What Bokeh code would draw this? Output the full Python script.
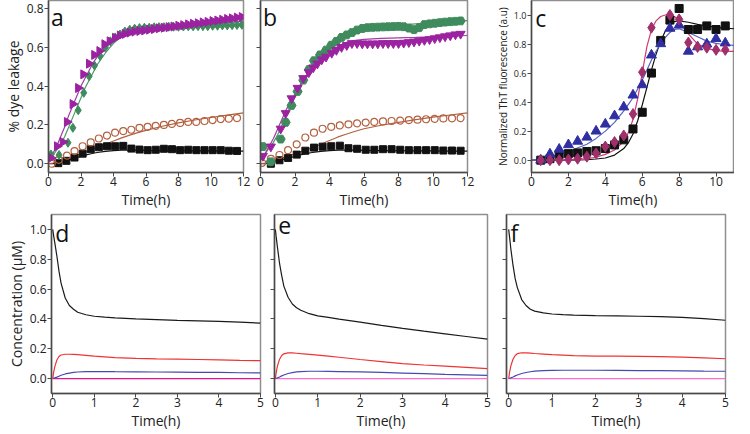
import numpy as np
from bokeh.plotting import figure
from bokeh.layouts import column, row
from bokeh.models import Label, FixedTicker, Range1d, PrintfTickFormatter, CustomJSTickFormatter
from bokeh.embed import file_html
from bokeh.resources import INLINE

FONT = "Open Sans"

# ---------------- Panel a data ----------------
a_sq_t = [0.6, 1.1, 1.6, 2.1, 2.6, 3.1, 3.6, 4.1, 4.6, 5.1, 5.6, 6.1, 6.6, 7.1, 7.6, 8.1, 8.6, 9.1, 9.6, 10.1, 10.6, 11.1, 11.6]
a_sq = [0.003, 0.015, 0.032, 0.052, 0.075, 0.085, 0.09, 0.09, 0.092, 0.078, 0.073, 0.07, 0.072, 0.077, 0.075, 0.07, 0.072, 0.07, 0.07, 0.07, 0.07, 0.067, 0.066]
a_ci_t = [0.2, 0.63, 1.14, 1.6, 2.1, 2.6, 3.1, 3.6, 4.1, 4.6, 5.1, 5.6, 6.1, 6.6, 7.1, 7.6, 8.1, 8.6, 9.1, 9.6, 10.1, 10.6, 11.1, 11.6]
a_ci = [0.0, 0.02, 0.042, 0.065, 0.09, 0.11, 0.13, 0.145, 0.16, 0.168, 0.175, 0.185, 0.19, 0.195, 0.2, 0.205, 0.21, 0.215, 0.215, 0.22, 0.225, 0.23, 0.232, 0.235]
a_gr_t = [0.15, 0.65, 1.2, 1.5, 1.83, 2.17, 2.5, 2.83, 3.17, 3.5, 3.8, 4.1, 4.4, 4.7, 5.0, 5.3, 5.6, 5.9, 6.2, 6.5, 6.8, 7.1, 7.4, 7.7, 8.0, 8.3, 8.6, 8.9, 9.2, 9.5, 9.8, 10.1, 10.4, 10.7, 11.0, 11.3, 11.6, 11.9]
a_gr = [0.048, 0.045, 0.108, 0.185, 0.275, 0.365, 0.45, 0.505, 0.555, 0.6, 0.63, 0.65, 0.665, 0.68, 0.69, 0.695, 0.698, 0.7, 0.7, 0.702, 0.703, 0.703, 0.705, 0.705, 0.705, 0.706, 0.707, 0.707, 0.708, 0.708, 0.708, 0.71, 0.71, 0.712, 0.712, 0.713, 0.714, 0.715]
a_pu_t = [0.15, 0.53, 0.88, 1.14, 1.49, 1.83, 2.15, 2.5, 2.82, 3.14, 3.45, 3.77, 4.1, 4.4, 4.7, 5.0, 5.3, 5.6, 5.9, 6.2, 6.5, 6.8, 7.1, 7.4, 7.7, 8.0, 8.3, 8.6, 8.9, 9.2, 9.5, 9.8, 10.1, 10.4, 10.7, 11.0, 11.3, 11.6, 11.9]
a_pu = [0.03, 0.09, 0.112, 0.215, 0.307, 0.39, 0.46, 0.515, 0.56, 0.58, 0.615, 0.63, 0.648, 0.66, 0.668, 0.675, 0.68, 0.683, 0.686, 0.69, 0.693, 0.697, 0.7, 0.703, 0.706, 0.71, 0.713, 0.717, 0.72, 0.723, 0.727, 0.73, 0.734, 0.737, 0.741, 0.745, 0.748, 0.752, 0.755]

fit_t = [0, 0.25, 0.5, 0.75, 1, 1.25, 1.5, 1.75, 2, 2.25, 2.5, 2.75, 3, 3.5, 4, 4.5, 5, 5.5, 6, 7, 8, 9, 10, 11, 12]
a_fit_gr = [0.02, 0.04, 0.07, 0.1, 0.14, 0.19, 0.24, 0.29, 0.34, 0.39, 0.43, 0.47, 0.51, 0.57, 0.62, 0.655, 0.68, 0.69, 0.697, 0.703, 0.706, 0.708, 0.71, 0.712, 0.715]
a_fit_pu = [0.02, 0.05, 0.09, 0.14, 0.19, 0.25, 0.3, 0.35, 0.4, 0.44, 0.48, 0.52, 0.55, 0.6, 0.64, 0.665, 0.68, 0.69, 0.697, 0.705, 0.71, 0.715, 0.72, 0.727, 0.733]
a_fit_bk = [0.0, 0.0, 0.003, 0.008, 0.014, 0.02, 0.026, 0.032, 0.038, 0.044, 0.049, 0.054, 0.058, 0.064, 0.068, 0.07, 0.07, 0.07, 0.069, 0.068, 0.067, 0.066, 0.066, 0.065, 0.065]
a_fit_br = [0.0, 0.004, 0.009, 0.015, 0.022, 0.029, 0.036, 0.043, 0.051, 0.059, 0.067, 0.075, 0.083, 0.1, 0.117, 0.133, 0.147, 0.16, 0.172, 0.193, 0.21, 0.225, 0.238, 0.25, 0.262]

# ---------------- Panel b data ----------------
b_sq_t = [0.6, 1.1, 1.6, 2.1, 2.6, 3.1, 3.6, 4.1, 4.6, 5.1, 5.6, 6.1, 6.6, 7.1, 7.6, 8.1, 8.6, 9.1, 9.6, 10.1, 10.6, 11.1, 11.6]
b_sq = [0.0, 0.018, 0.03, 0.047, 0.067, 0.083, 0.088, 0.09, 0.093, 0.08, 0.077, 0.072, 0.072, 0.075, 0.075, 0.072, 0.07, 0.07, 0.07, 0.07, 0.068, 0.068, 0.067]
b_ci_t = [0.1, 0.6, 1.1, 1.6, 2.1, 2.6, 3.1, 3.6, 4.1, 4.6, 5.1, 5.6, 6.1, 6.6, 7.1, 7.6, 8.1, 8.6, 9.1, 9.6, 10.1, 10.6, 11.1, 11.6]
b_ci = [0.005, 0.025, 0.045, 0.07, 0.1, 0.135, 0.16, 0.18, 0.19, 0.197, 0.203, 0.208, 0.212, 0.215, 0.218, 0.22, 0.222, 0.225, 0.227, 0.229, 0.231, 0.233, 0.234, 0.235]
b_gr_t = [0.14, 0.59, 1.17, 1.46, 1.8, 2.15, 2.48, 2.81, 3.1, 3.45, 3.8, 4.1, 4.4, 4.7, 5.0, 5.3, 5.6, 5.9, 6.2, 6.5, 6.8, 7.1, 7.4, 7.7, 8.0, 8.3, 8.6, 8.9, 9.2, 9.5, 9.8, 10.1, 10.4, 10.7, 11.0, 11.3, 11.6]
b_gr = [0.088, 0.01, 0.127, 0.213, 0.3, 0.372, 0.43, 0.485, 0.53, 0.56, 0.585, 0.61, 0.63, 0.65, 0.663, 0.675, 0.688, 0.696, 0.7, 0.702, 0.703, 0.704, 0.705, 0.706, 0.707, 0.705, 0.698, 0.69, 0.7, 0.716, 0.72, 0.723, 0.726, 0.729, 0.731, 0.733, 0.735]
b_pu_t = [0.14, 0.6, 1.17, 1.46, 1.8, 2.15, 2.48, 2.8, 3.06, 3.3, 3.55, 3.8, 4.13, 4.4, 4.7, 5.0, 5.3, 5.6, 5.9, 6.2, 6.5, 6.8, 7.1, 7.4, 7.7, 8.0, 8.3, 8.6, 8.9, 9.2, 9.5, 9.8, 10.1, 10.4, 10.7, 11.0, 11.3, 11.6]
b_pu = [0.04, 0.088, 0.18, 0.26, 0.336, 0.39, 0.44, 0.47, 0.495, 0.515, 0.536, 0.55, 0.57, 0.585, 0.6, 0.61, 0.62, 0.62, 0.618, 0.618, 0.618, 0.618, 0.62, 0.62, 0.62, 0.62, 0.622, 0.625, 0.628, 0.632, 0.636, 0.64, 0.645, 0.65, 0.655, 0.66, 0.665, 0.668]
b_fit_gr = [0.03, 0.05, 0.08, 0.11, 0.15, 0.2, 0.25, 0.3, 0.345, 0.39, 0.43, 0.47, 0.5, 0.56, 0.6, 0.635, 0.66, 0.68, 0.692, 0.705, 0.713, 0.72, 0.726, 0.731, 0.736]
b_fit_pu = [0.02, 0.05, 0.09, 0.13, 0.18, 0.23, 0.28, 0.32, 0.36, 0.4, 0.43, 0.46, 0.49, 0.54, 0.575, 0.605, 0.625, 0.635, 0.64, 0.645, 0.648, 0.65, 0.653, 0.656, 0.66]
b_fit_bk = [0.0, 0.0, 0.003, 0.008, 0.014, 0.02, 0.026, 0.032, 0.038, 0.044, 0.049, 0.054, 0.058, 0.064, 0.068, 0.07, 0.07, 0.07, 0.069, 0.068, 0.067, 0.066, 0.066, 0.065, 0.065]
b_fit_br = [0.0, 0.004, 0.009, 0.015, 0.022, 0.029, 0.036, 0.043, 0.051, 0.059, 0.067, 0.075, 0.083, 0.1, 0.12, 0.138, 0.153, 0.167, 0.18, 0.198, 0.213, 0.227, 0.24, 0.251, 0.262]

# ---------------- Panel c data ----------------
c_t = [0.5, 1.0, 1.5, 2.0, 2.5, 3.0, 3.5, 4.0, 4.5, 5.0, 5.5, 6.0, 6.5, 7.0, 7.5, 8.0, 8.5, 9.0, 9.5, 10.0, 10.5]
c_sq = [0.0, 0.01, 0.04, 0.045, 0.05, 0.06, 0.065, 0.08, 0.105, 0.14, 0.215, 0.33, 0.6, 0.825, 0.965, 1.045, 0.9, 0.9, 0.925, 0.9, 0.925]
c_tri = [0.0, 0.042, 0.075, 0.106, 0.13, 0.158, 0.2, 0.248, 0.305, 0.366, 0.448, 0.519, 0.724, 0.802, 0.908, 0.93, 0.75, 0.78, 0.8, 0.837, 0.807]
c_di_t = [0.5, 1.0, 1.5, 2.0, 2.5, 3.0, 3.5, 4.0, 4.5, 5.0, 5.5, 6.0, 6.5, 7.5, 8.0, 8.5, 9.0, 9.5, 10.0, 10.5]
c_di = [0.0, 0.0, 0.0, 0.005, 0.01, 0.024, 0.047, 0.094, 0.125, 0.17, 0.318, 0.606, 0.913, 1.0, 0.97, 0.81, 0.78, 0.775, 0.76, 0.76]
c_fit_t = [0, 1, 2, 3, 3.5, 4, 4.5, 5, 5.25, 5.5, 5.75, 6, 6.25, 6.5, 6.75, 7, 7.25, 7.5, 7.75, 8, 8.5, 9, 9.5, 10, 10.5, 11]
c_fit_bk = [0, 0, 0, 0.003, 0.008, 0.015, 0.035, 0.08, 0.12, 0.18, 0.27, 0.38, 0.5, 0.62, 0.73, 0.82, 0.89, 0.93, 0.955, 0.96, 0.95, 0.935, 0.925, 0.915, 0.91, 0.905]
c_fit_pk = [0, 0, 0.002, 0.01, 0.02, 0.04, 0.07, 0.13, 0.19, 0.28, 0.42, 0.6, 0.78, 0.9, 0.96, 0.99, 1.0, 1.0, 0.99, 0.96, 0.87, 0.8, 0.77, 0.755, 0.75, 0.75]
c_fit_bl = [0, 0.02, 0.06, 0.11, 0.15, 0.2, 0.26, 0.34, 0.385, 0.43, 0.49, 0.55, 0.62, 0.69, 0.75, 0.8, 0.845, 0.88, 0.9, 0.905, 0.88, 0.85, 0.82, 0.805, 0.795, 0.79]

# ---------------- Panels d, e, f data ----------------
s_t = [0, 0.02, 0.05, 0.1, 0.15, 0.2, 0.3, 0.4, 0.5, 0.6, 0.8, 1.0, 1.25, 1.5, 2, 2.5, 3, 3.5, 4, 4.5, 5]
d_bk = [1.0, 0.96, 0.91, 0.82, 0.72, 0.64, 0.54, 0.49, 0.465, 0.445, 0.428, 0.418, 0.412, 0.407, 0.4, 0.395, 0.39, 0.387, 0.384, 0.378, 0.372]
d_rd = [0, 0.04, 0.08, 0.125, 0.148, 0.158, 0.163, 0.163, 0.162, 0.16, 0.155, 0.15, 0.145, 0.14, 0.135, 0.132, 0.13, 0.128, 0.125, 0.122, 0.12]
d_bl = [0, 0.002, 0.005, 0.01, 0.016, 0.022, 0.031, 0.037, 0.041, 0.044, 0.046, 0.047, 0.047, 0.046, 0.045, 0.044, 0.043, 0.042, 0.041, 0.039, 0.038]
d_pk = [0] * 21
e_bk = [1.0, 0.95, 0.88, 0.77, 0.69, 0.62, 0.545, 0.5, 0.475, 0.458, 0.435, 0.42, 0.41, 0.398, 0.378, 0.357, 0.337, 0.318, 0.3, 0.282, 0.264]
e_rd = [0, 0.04, 0.085, 0.13, 0.155, 0.166, 0.172, 0.172, 0.17, 0.167, 0.162, 0.157, 0.15, 0.143, 0.128, 0.114, 0.1, 0.091, 0.083, 0.075, 0.067]
e_bl = [0, 0.002, 0.005, 0.011, 0.018, 0.024, 0.034, 0.04, 0.045, 0.047, 0.049, 0.049, 0.048, 0.047, 0.045, 0.041, 0.037, 0.033, 0.028, 0.025, 0.022]
e_pk = [0] * 21
f_bk = [1.0, 0.95, 0.87, 0.76, 0.67, 0.61, 0.53, 0.49, 0.465, 0.452, 0.44, 0.433, 0.429, 0.426, 0.422, 0.42, 0.418, 0.415, 0.41, 0.402, 0.391]
f_rd = [0, 0.04, 0.085, 0.13, 0.155, 0.167, 0.173, 0.173, 0.171, 0.168, 0.164, 0.16, 0.157, 0.154, 0.151, 0.15, 0.149, 0.147, 0.144, 0.139, 0.133]
f_bl = [0, 0.002, 0.005, 0.011, 0.018, 0.024, 0.034, 0.041, 0.046, 0.05, 0.054, 0.055, 0.056, 0.056, 0.056, 0.055, 0.054, 0.053, 0.052, 0.05, 0.049]
f_pk = [0] * 21

# ---------------- colours ----------------
C_BLACK = "#111111"
C_BROWN = "#b3603f"
C_GREEN = "#3f8b5e"
C_PURPLE = "#9b22a0"
C_BLUE = "#2f2fa3"
C_BLUE_LINE = "#5563c4"
C_MAROON = "#a0306c"
C_PINK_LINE = "#cc3b78"
C_RED = "#ee3333"
C_SBLUE = "#4848b0"


def make_fig(w, h, xr, yr, mbl, mbr, mbt, mbb):
    p = figure(width=w, height=h, x_range=Range1d(*xr), y_range=Range1d(*yr),
               output_backend="svg", toolbar_location=None,
               min_border_left=mbl, min_border_right=mbr,
               min_border_top=mbt, min_border_bottom=mbb)
    p.grid.visible = False
    p.outline_line_color = "#8f8f8f"
    p.outline_line_width = 1.5
    p.background_fill_color = "white"
    p.border_fill_color = "white"
    for ax in (p.xaxis[0], p.yaxis[0]):
        ax.axis_line_color = "#4a4a4a"
        ax.axis_line_width = 1.5
        ax.major_tick_line_color = "#4a4a4a"
        ax.major_tick_line_width = 1
        ax.major_tick_in = 0
        ax.major_tick_out = 4
        ax.minor_tick_line_color = None
        ax.major_label_text_font = FONT
        ax.major_label_text_color = "#222222"
        ax.major_label_standoff = 1
        ax.axis_label_text_font = FONT
        ax.axis_label_text_font_style = "normal"
        ax.axis_label_text_color = "#222222"
        ax.axis_label_standoff = 1
        ax.major_label_text_line_height = 1.0
        ax.axis_label_text_line_height = 1.0
    xa = p.xaxis[0]
    xa.major_label_standoff = 0
    xa.axis_label_standoff = 1
    xa.axis_label = "Time(h)"
    xa.axis_label_text_font_size = "14px"
    xa.major_label_text_font_size = "12px"
    return p


def hide_ylabels(p):
    p.yaxis[0].formatter = CustomJSTickFormatter(code="return ''")
    p.yaxis[0].major_label_standoff = 0


def letter(p, x, y, t):
    p.add_layout(Label(x=x, y=y, text=t, text_font=FONT, text_font_size="23px",
                       text_baseline="top", text_align="left", text_color="#111111"))


def leak_panel(p, sq_t, sq, ci_t, ci, gr_t, gr, gr_marker, pu_t, pu, pu_marker, pu_angle,
               fbk, fbr, fgr, fpu):
    p.line(fit_t, fbk, line_color=C_BLACK, line_width=1.2)
    p.line(fit_t, fbr, line_color=C_BROWN, line_width=1.2)
    p.line(fit_t, fgr, line_color="#4c9a6c", line_width=1.2)
    p.line(fit_t, fpu, line_color="#a43aa8", line_width=1.2)
    p.scatter(sq_t, sq, marker="square", size=7, fill_color=C_BLACK, line_color=C_BLACK)
    p.scatter(ci_t, ci, marker="circle", size=7, fill_color=None, line_color=C_BROWN, line_width=1.2)
    p.scatter(gr_t, gr, marker=gr_marker, size=9, fill_color=C_GREEN, line_color=C_GREEN)
    p.scatter(pu_t, pu, marker=pu_marker, angle=pu_angle, size=9, fill_color=C_PURPLE, line_color=C_PURPLE)
    p.xaxis[0].ticker = FixedTicker(ticks=[0, 2, 4, 6, 8, 10, 12])
    p.yaxis[0].ticker = FixedTicker(ticks=[0.0, 0.2, 0.4, 0.6, 0.8])
    p.yaxis[0].formatter = PrintfTickFormatter(format="%.1f")
    p.yaxis[0].major_label_text_font_size = "12px"


TOP_H = 214
BOT_H = 225
LEAK_Y = (-0.045, 0.84)

# panel a
pa = make_fig(251, TOP_H, (0, 12), LEAK_Y, 36, 8, 3, 20)
leak_panel(pa, a_sq_t, a_sq, a_ci_t, a_ci, a_gr_t, a_gr, "diamond", a_pu_t, a_pu, "triangle", -np.pi / 2,
           a_fit_bk, a_fit_br, a_fit_gr, a_fit_pu)
pa.yaxis[0].axis_label = "% dye leakage"
pa.yaxis[0].axis_label_text_font_size = "14px"
letter(pa, 0.15, 0.835, "a")

# panel b
pb = make_fig(226, TOP_H, (0, 12), LEAK_Y, 9, 10, 3, 20)
leak_panel(pb, b_sq_t, b_sq, b_ci_t, b_ci, b_gr_t, b_gr, "hex", b_pu_t, b_pu, "inverted_triangle", 0,
           b_fit_bk, b_fit_br, b_fit_gr, b_fit_pu)
hide_ylabels(pb)
letter(pb, 0.15, 0.835, "b")

# panel c
pc = make_fig(257, TOP_H, (0, 11), (-0.085, 1.1), 54, 0, 3, 20)
pc.line(c_fit_t, c_fit_bk, line_color=C_BLACK, line_width=1.2)
pc.line(c_fit_t, c_fit_pk, line_color=C_PINK_LINE, line_width=1.2)
pc.line(c_fit_t, c_fit_bl, line_color=C_BLUE_LINE, line_width=1.2)
pc.scatter(c_t, c_sq, marker="square", size=8, fill_color=C_BLACK, line_color=C_BLACK)
pc.scatter(c_t, c_tri, marker="triangle", size=10, fill_color=C_BLUE, line_color=C_BLUE)
pc.scatter(c_di_t, c_di, marker="diamond", size=11, fill_color=C_MAROON, line_color=C_MAROON)
pc.xaxis[0].ticker = FixedTicker(ticks=[0, 2, 4, 6, 8, 10])
pc.yaxis[0].ticker = FixedTicker(ticks=[0.0, 0.2, 0.4, 0.6, 0.8, 1.0])
pc.yaxis[0].formatter = PrintfTickFormatter(format="%.1f")
pc.yaxis[0].major_label_text_font_size = "9px"
pc.yaxis[0].axis_label = "Normalized ThT fluorescence (a.u)"
pc.yaxis[0].axis_label_text_font_size = "10px"
letter(pc, 0.2, 1.09, "c")


def sim_panel(p, bk, rd, bl, pk, pk_color):
    p.line(s_t, pk, line_color=pk_color, line_width=1.3)
    p.line(s_t, bl, line_color=C_SBLUE, line_width=1.2)
    p.line(s_t, rd, line_color=C_RED, line_width=1.2)
    p.line(s_t, bk, line_color="#1a1a1a", line_width=1.2)
    p.xaxis[0].ticker = FixedTicker(ticks=[0, 1, 2, 3, 4, 5])
    p.yaxis[0].ticker = FixedTicker(ticks=[0.0, 0.2, 0.4, 0.6, 0.8, 1.0])
    p.yaxis[0].formatter = PrintfTickFormatter(format="%.1f")
    p.yaxis[0].major_label_text_font_size = "12px"


SIM_Y = (-0.1, 1.1)
pd_ = make_fig(267, BOT_H, (-0.03, 5.0), SIM_Y, 51, 7, 7, 20)
sim_panel(pd_, d_bk, d_rd, d_bl, d_pk, "#e8138a")
pd_.yaxis[0].axis_label = "Concentration (\u03bcM)"
pd_.yaxis[0].axis_label_text_font_size = "14px"
letter(pd_, 0.06, 1.08, "d")

pe = make_fig(229, BOT_H, (-0.02, 5.0), SIM_Y, 7, 9, 7, 20)
sim_panel(pe, e_bk, e_rd, e_bl, e_pk, "#ff6ccc")
hide_ylabels(pe)
letter(pe, 0.07, 1.08, "e")

pf = make_fig(238, BOT_H, (-0.05, 5.0), SIM_Y, 10, 9, 7, 20)
sim_panel(pf, f_bk, f_rd, f_bl, f_pk, "#ff6ccc")
hide_ylabels(pf)
letter(pf, 0.04, 1.08, "f")

top_row = row(pa, pb, pc)
bottom_row = row(pd_, pe, pf, margin=(-4, 0, 0, 0))
layout = column(top_row, bottom_row, margin=(-3, 0, -8, 0))

open("out.html", "w").write(file_html(layout, INLINE))
